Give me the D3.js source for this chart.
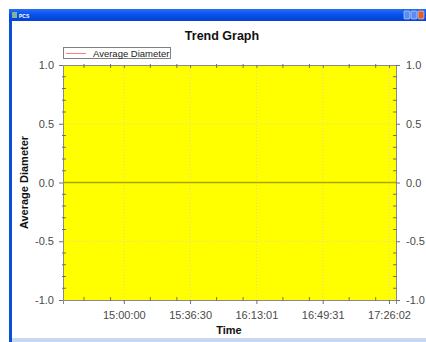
<!DOCTYPE html>
<html><head><meta charset="utf-8">
<script src="https://cdn.jsdelivr.net/npm/d3@7"></script>
<style>
html,body{margin:0;padding:0;background:#fff;}
svg{display:block;font-family:"Liberation Sans",Arial,sans-serif;}
</style></head>
<body>
<svg id="c" width="426" height="342"></svg>
<script>
// ---- data ----
const title = "Trend Graph";
const seriesName = "Average Diameter";
const xLabel = "Time";
const yLabel = "Average Diameter";
const timeDomain = ["14:26:31", "17:29:53"];
const xTickLabels = ["15:00:00", "15:36:30", "16:13:01", "16:49:31", "17:26:02"];
const yTicks = [-1.0, -0.5, 0.0, 0.5, 1.0];
const yDomain = [-1, 1];
const seriesValues = []; // no data points recorded

const svg = d3.select("#c");
const parse = s => { const [h,m,sec] = s.split(":").map(Number); return new Date(2000,0,1,h,m,sec); };
const yFmt = v => d3.format(".1f")(v).replace("\u2212","-");

// window chrome
const defs = svg.append("defs");
const g1 = defs.append("linearGradient").attr("id","tb").attr("x1",0).attr("y1",0).attr("x2",0).attr("y2",1);
g1.append("stop").attr("offset","0%").attr("stop-color","#2a6cf4");
g1.append("stop").attr("offset","50%").attr("stop-color","#0550ec");
g1.append("stop").attr("offset","100%").attr("stop-color","#0444d0");
svg.append("rect").attr("x",9).attr("y",9).attr("width",417).attr("height",12).attr("fill","url(#tb)");
svg.append("rect").attr("x",9).attr("y",21).attr("width",3).attr("height",321).attr("fill","#0a4fd6");
svg.append("rect").attr("x",12).attr("y",338).attr("width",414).attr("height",4).attr("fill","#c8d8f4");
svg.append("rect").attr("x",12).attr("y",12).attr("width",5).attr("height",6).attr("fill","#7fb0a0");
svg.append("text").attr("x",19).attr("y",18).attr("fill","#fff").attr("font-size",5).attr("font-weight","bold").text("PCS");
[[404,"#5b8cf0"],[411,"#5b8cf0"],[418,"#e0602a"]].forEach(([x,c])=>{
  svg.append("rect").attr("x",x).attr("y",11).attr("width",6).attr("height",8).attr("rx",1).attr("fill",c).attr("stroke","#fff").attr("stroke-width",0.5);
});

// plot
const L=63, R=396, T=65, B=300;
const x = d3.scaleTime().domain(timeDomain.map(parse)).range([L,R]);
const y = d3.scaleLinear().domain(yDomain).range([B,T]);

svg.append("rect").attr("x",L).attr("y",T).attr("width",R-L).attr("height",B-T).attr("fill","#ffff00");

const xTicks = xTickLabels.map(parse);
// grid
svg.append("g").selectAll("line").data(xTicks).join("line")
  .attr("x1",d=>x(d)).attr("x2",d=>x(d)).attr("y1",T).attr("y2",B)
  .attr("stroke","#d8d8a0").attr("stroke-width",1).attr("stroke-dasharray","1,2");
svg.append("g").selectAll("line").data(yTicks.filter(v=>v!==0 && Math.abs(v)!==1)).join("line")
  .attr("x1",L).attr("x2",R).attr("y1",d=>y(d)).attr("y2",d=>y(d))
  .attr("stroke","#d8d8a0").attr("stroke-width",1).attr("stroke-dasharray","1,2");
// zero line
svg.append("line").attr("x1",L).attr("x2",R).attr("y1",y(0)).attr("y2",y(0))
  .attr("stroke","#a8a800").attr("stroke-width",1.5);

// series line (empty)
svg.append("path").datum(seriesValues).attr("fill","none").attr("stroke","#ff9999")
  .attr("d", d3.line().x(d=>x(parse(d[0]))).y(d=>y(d[1])));

// axes
const tickFmt = d3.timeFormat("%H:%M:%S");
const axB = d3.axisBottom(x).tickValues(xTicks).tickFormat(tickFmt).tickSize(4).tickPadding(7);
const axT = d3.axisTop(x).tickValues(xTicks).tickFormat("").tickSize(-3);
const axL = d3.axisLeft(y).tickValues(yTicks).tickFormat(yFmt).tickSize(4).tickPadding(5);
const axR = d3.axisRight(y).tickValues(yTicks).tickFormat(yFmt).tickSize(4).tickPadding(6);
function style(g){
  g.selectAll("path.domain").attr("stroke","#8a8a8a");
  g.selectAll(".tick line").attr("stroke","#707070");
  g.selectAll("text").attr("fill","#4a4a4a").attr("font-size",11).attr("font-family","Liberation Sans, Arial, sans-serif");
  g.attr("font-family",null);
}
svg.append("g").attr("transform",`translate(0,${B})`).call(axB).call(style);
svg.append("g").attr("transform",`translate(0,${T})`).call(axT).call(style);
svg.append("g").attr("transform",`translate(${L},0)`).call(axL).call(style);
svg.append("g").attr("transform",`translate(${R},0)`).call(axR).call(style);

// minor ticks
const minorY = d3.range(-10,11).map(v=>v/10).filter(v=>!yTicks.some(t=>Math.abs(t-v)<1e-9));
svg.append("g").selectAll("line").data(minorY).join("line")
  .attr("x1",L-1).attr("x2",L+3).attr("y1",d=>y(d)).attr("y2",d=>y(d)).attr("stroke","#707070");
svg.append("g").selectAll("line").data(minorY).join("line")
  .attr("x1",R-3).attr("x2",R+1).attr("y1",d=>y(d)).attr("y2",d=>y(d)).attr("stroke","#707070");
const step = xTicks[1]-xTicks[0];
const minorX = [];
for(let i=-1;i<xTicks.length;i++){ [0.4,0.8].forEach(f=>{ const t=new Date(+xTicks[0]+ (i+f)*step); if(x(t)>L+2 && x(t)<R-2) minorX.push(t);}); }
svg.append("g").selectAll("line").data(minorX).join("line")
  .attr("x1",d=>x(d)).attr("x2",d=>x(d)).attr("y1",B-3).attr("y2",B+1).attr("stroke","#707070");
svg.append("g").selectAll("line").data(minorX).join("line")
  .attr("x1",d=>x(d)).attr("x2",d=>x(d)).attr("y1",T-1).attr("y2",T+3).attr("stroke","#707070");

// titles
svg.append("text").attr("x",222).attr("y",40).attr("text-anchor","middle").attr("font-size",12.5).attr("font-weight","bold").attr("fill","#111").text(title);
svg.append("text").attr("x",229).attr("y",334).attr("text-anchor","middle").attr("font-size",11).attr("font-weight","bold").attr("fill","#111").text(xLabel);
svg.append("text").attr("transform",`translate(28,${y(0)}) rotate(-90)`).attr("text-anchor","middle").attr("font-size",11).attr("font-weight","bold").attr("fill","#111").text(yLabel);

// legend
svg.append("rect").attr("x",63.5).attr("y",47.5).attr("width",107).attr("height",11).attr("fill","#fff").attr("stroke","#808080");
svg.append("line").attr("x1",66).attr("x2",86).attr("y1",53.5).attr("y2",53.5).attr("stroke","#ff7f7f").attr("stroke-width",1);
svg.append("text").attr("x",93).attr("y",57).attr("font-size",9.5).attr("fill","#222").text(seriesName);
</script>
</body></html>
